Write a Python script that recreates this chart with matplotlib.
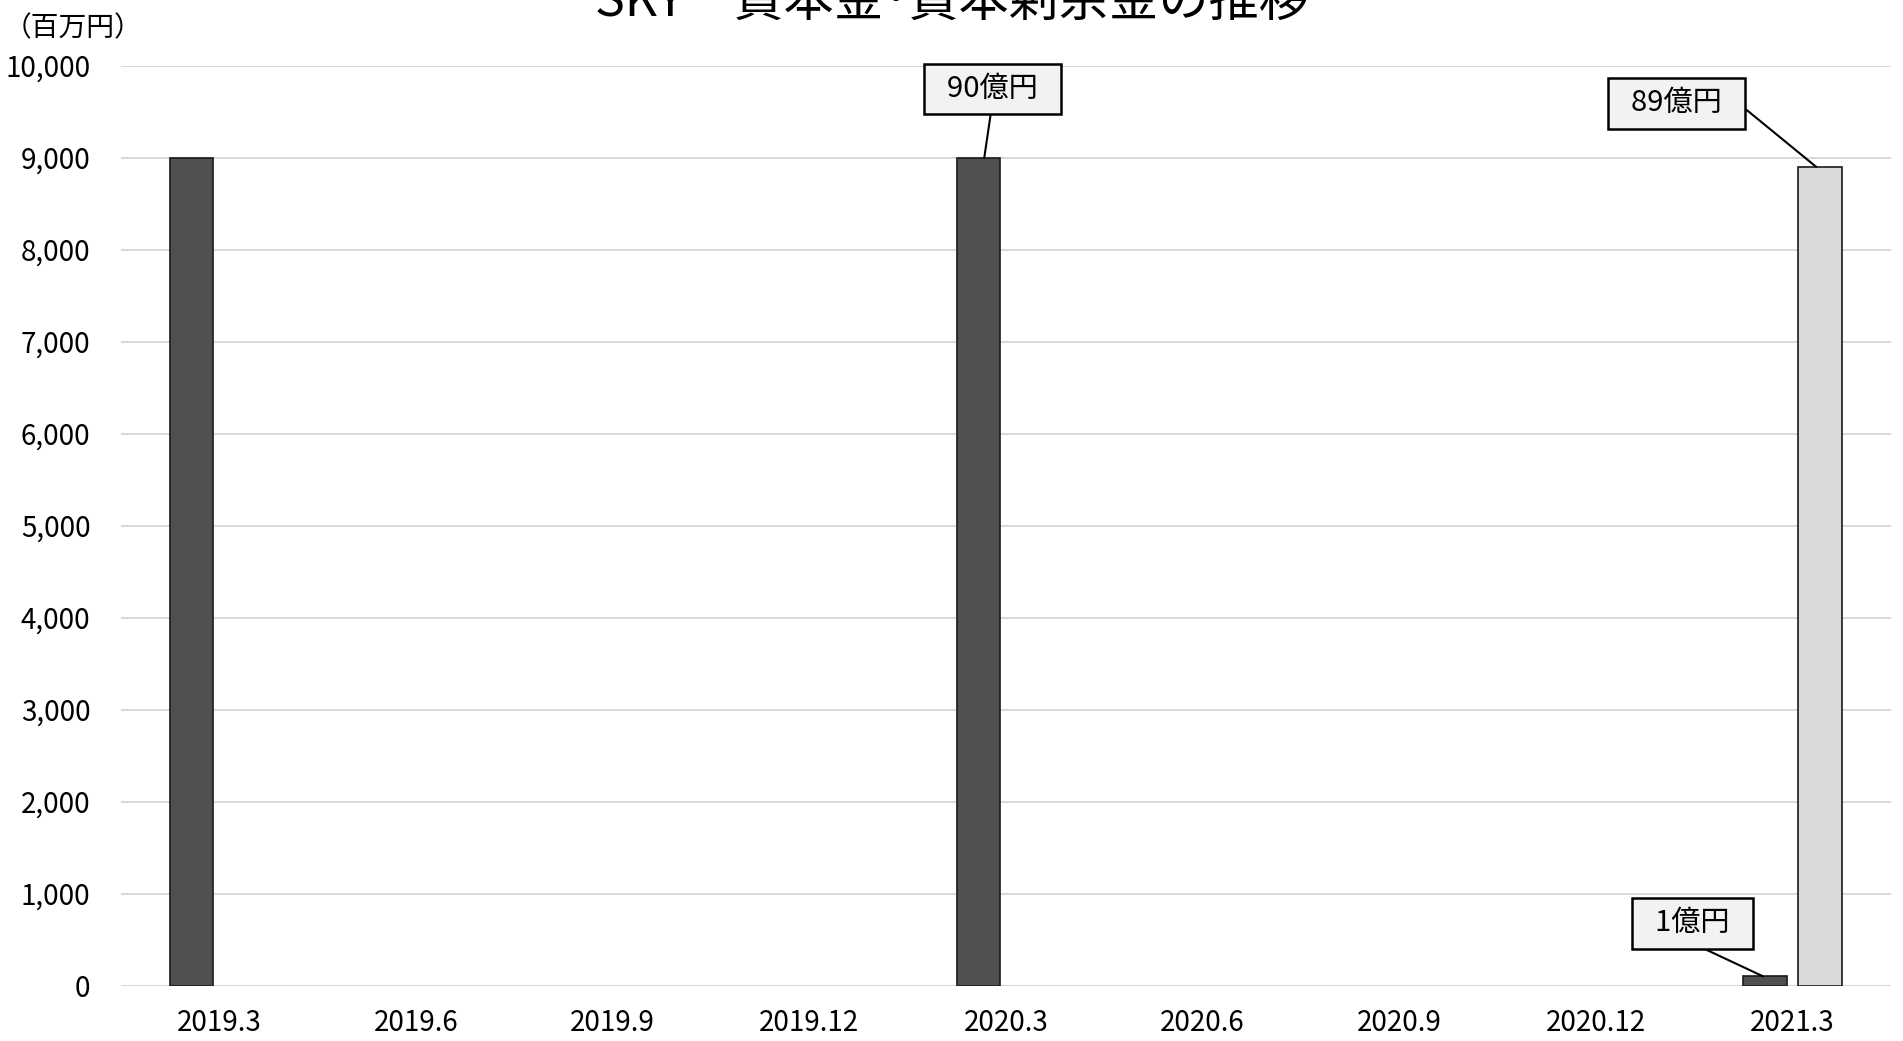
import matplotlib.pyplot as plt
import numpy as np

plt.rcParams['font.family'] = ['Noto Sans CJK JP', 'DejaVu Sans']

periods = ['2019.3', '2019.6', '2019.9', '2019.12', '2020.3',
           '2020.6', '2020.9', '2020.12', '2021.3']
capital = [9000, 0, 0, 0, 9000, 0, 0, 0, 100]          # 資本金
capital_surplus = [0, 0, 0, 0, 0, 0, 0, 0, 8900]       # 資本剰余金
y_ticks = [0, 1000, 2000, 3000, 4000, 5000, 6000, 7000, 8000, 9000, 10000]

fig = plt.figure(figsize=(19.03, 10.41), dpi=100)
ax = fig.add_axes([0.0636, 0.0533, 0.9300, 0.8837])

x = np.arange(len(periods))
w = 0.22
off = 0.14
b1 = ax.bar(x - off, capital, w, color='#505050', edgecolor='#1a1a1a', linewidth=1.2, zorder=3)
b2 = ax.bar(x + off, capital_surplus, w, color='#d9d9d9', edgecolor='#1a1a1a', linewidth=1.2, zorder=3)
# empty periods show no bar outline
for r in list(b1) + list(b2):
    if r.get_height() == 0:
        r.set_visible(False)

ax.set_xlim(-0.5, 8.5)
ax.set_ylim(0, 10000)
ax.set_yticks(y_ticks)
ax.set_yticklabels([f'{v:,}' for v in y_ticks], fontsize=20)
ax.set_xticks(x)
ax.set_xticklabels(periods, fontsize=20)
ax.tick_params(length=0)
ax.tick_params(axis='x', pad=16)
ax.tick_params(axis='y', pad=22)
ax.grid(axis='y', color='#d9d9d9', linewidth=1.5, zorder=0)
for s in ax.spines.values():
    s.set_visible(False)

box = dict(boxstyle='square,pad=0.35', fc='#f2f2f2', ec='black', lw=1.8)

def label(text, xy, xytext, relpos):
    ax.annotate('  ' + text + '  ', xy=xy, xytext=xytext, fontsize=21, ha='center', va='center',
                bbox=box, zorder=5,
                arrowprops=dict(arrowstyle='-', color='black', lw=1.5,
                                shrinkA=0, shrinkB=0, relpos=relpos))

label('90億円', (x[4] - off + 0.03, capital[4]), (3.93, 9745), (0.5, 0.0))
label('89億円', (x[8] + off - 0.02, capital_surplus[8]), (7.41, 9590), (1.0, 0.6))
label('1億円', (x[8] - off - 0.01, capital[8]), (7.49, 675), (0.4, 0.0))

fig.text(0.5, 0.985, 'SKY\u3000資本金\uff65資本剰余金の推移', ha='center', va='baseline', fontsize=36)
fig.text(0.002, 0.987, '（百万円）', ha='left', va='top', fontsize=20)

fig.savefig('out.png', dpi=100)
